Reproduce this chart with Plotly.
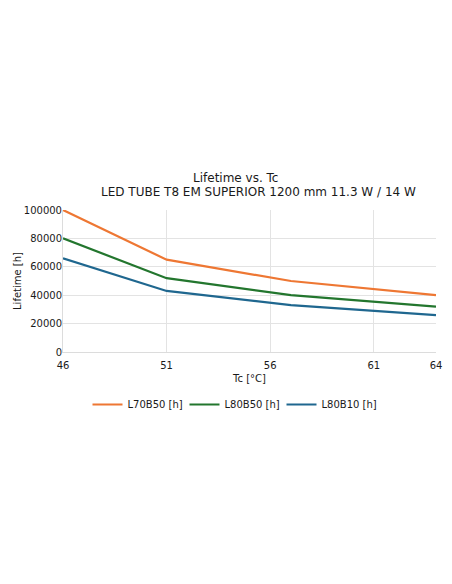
import plotly.graph_objects as go

tc = [46, 51, 57, 64]
l70b50 = [100000, 65000, 50000, 40000]
l80b50 = [80000, 52000, 40000, 32000]
l80b10 = [66000, 43000, 33000, 26000]
series_names = ["L70B50 [h]", "L80B50 [h]", "L80B10 [h]"]
colors = ["#ee7733", "#23762e", "#1f678f"]
x_ticks = [46, 51, 56, 61, 64]
y_ticks = [0, 20000, 40000, 60000, 80000, 100000]

# page has ~8px body margin; figure sized to fit the 452x584 window
W, H = 444, 576
L, T, R, B = 55, 202, 16, 232
pw, ph = W - L - R, H - T - B

fig = go.Figure()
for name, vals, c in zip(series_names, [l70b50, l80b50, l80b10], colors):
    fig.add_trace(go.Scatter(x=tc, y=vals, mode="lines", name=name,
                             line=dict(color=c, width=2.2)))

tfont = dict(family="DejaVu Sans", size=12, color="#1a1a1a")
font = dict(family="DejaVu Sans", size=10, color="#1a1a1a")


def px_to_paper(xp, yp):
    # xp, yp are window pixel coords
    return (xp - 8 - L) / pw, (T + ph - (yp - 8)) / ph


a1 = px_to_paper(235, 178)
a2 = px_to_paper(258, 192)
lg = px_to_paper(233, 390)

fig.update_layout(
    width=W, height=H,
    paper_bgcolor="white", plot_bgcolor="white",
    margin=dict(l=L, r=R, t=T, b=B, autoexpand=False),
    font=font,
    showlegend=True,
    legend=dict(orientation="h", x=lg[0], xanchor="center", y=lg[1], yanchor="top",
                font=font, itemwidth=30, entrywidth=52, tracegroupgap=0),
    annotations=[
        dict(text="Lifetime vs. Tc", x=a1[0], y=a1[1], xref="paper", yref="paper",
             showarrow=False, xanchor="center", yanchor="middle", font=tfont),
        dict(text="LED TUBE T8 EM SUPERIOR 1200 mm 11.3 W / 14 W", x=a2[0], y=a2[1],
             xref="paper", yref="paper",
             showarrow=False, xanchor="center", yanchor="middle", font=tfont),
    ],
)

fig.update_xaxes(range=[46, 64], tickvals=x_ticks, ticktext=[str(v) for v in x_ticks],
                 showgrid=True, gridcolor="#e3e3e3", gridwidth=1,
                 showline=True, linecolor="#dcdcdc",
                 ticks="outside", ticklen=4, tickcolor="rgba(0,0,0,0)",
                 zeroline=False, tickfont=font,
                 title=dict(text="Tc [°C]", font=font, standoff=4))
fig.update_yaxes(range=[0, 100000], tickvals=y_ticks, tickformat="d",
                 showgrid=True, gridcolor="#e3e3e3", gridwidth=1,
                 showline=True, linecolor="#dcdcdc",
                 ticks="", zeroline=False, tickfont=font, ticklabelstandoff=-2,
                 title=dict(text="Lifetime [h]", font=font, standoff=0))

fig.write_html("out.html")
